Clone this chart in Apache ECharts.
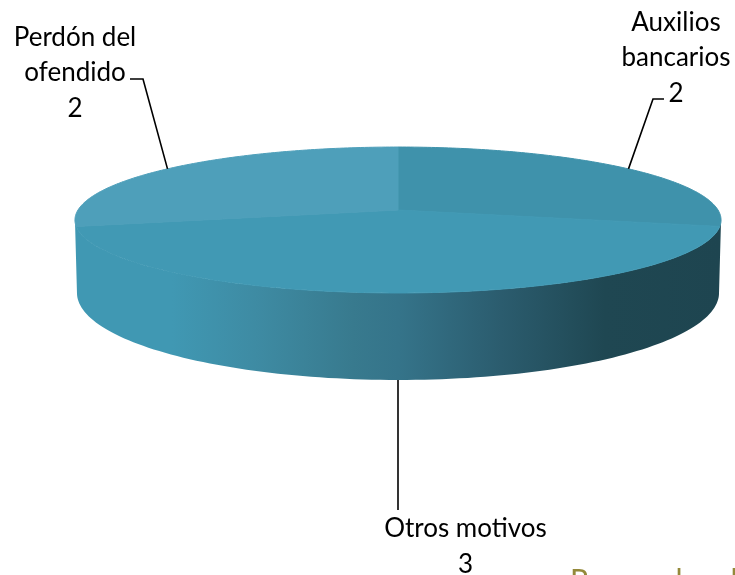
<!DOCTYPE html>
<html>
<head>
<meta charset="utf-8">
<style>html,body{margin:0;padding:0;background:#fff}#chart{width:735px;height:575px}</style>
<script src="https://cdn.jsdelivr.net/npm/echarts@6/dist/echarts.min.js"></script>
</head>
<body>
<div id="chart"></div>
<script>
// data, clockwise from 12 o'clock
const categories = ['Auxilios\nbancarios', 'Otros motivos', 'Perdón del\nofendido'];
const values = [2, 3, 2];
const sliceColors = ['#3F92AB', '#4199B4', '#4E9FBA'];
const footerText = 'Personal en la';

// layout of the tilted disc
const cx = 398, cyTop = 210, cyBottom = 281;
const rxTop = 320, ryTop = 71.6, rxBottom = 318, ryBottom = 85.4;
const tilt = 0.137;
// label box centre, elbow and end of each leader
const labelPos = [[676, 58], [465.5, 546.5], [75, 73]];
const leaders = [[[653, 99], [664, 99]], [[398, 510]], [[143, 79], [130, 79]]];

const total = values.reduce((a, b) => a + b, 0);
const cum = [0];
values.forEach((v, i) => cum.push(cum[i] + v));
const toAngle = v => echarts.number.linearMap(v, [0, total], [0, Math.PI * 2]);

// a clockwise angle from the far point of the disc, in perspective
function project(a, cy, rx, ry) {
	let u = Math.sin(a), v = -Math.cos(a);
	let w = 1 - tilt * v;
	return [cx + rx * u / w, cy + ry * v / w];
}
function arc(a0, a1, cy, rx, ry) {
	let pts = [];
	for (let i = 0; i <= 120; i++) {
		pts.push(project(a0 + (a1 - a0) * i / 120, cy, rx, ry));
	}
	return pts;
}

const wallGradient = new echarts.graphic.LinearGradient(0, 0, 1, 0, [
	{ offset: 0, color: '#4098B3' },
	{ offset: 0.15, color: '#4098B3' },
	{ offset: 0.28, color: '#3E8BA3' },
	{ offset: 0.43, color: '#387A8E' },
	{ offset: 0.5, color: '#35748A' },
	{ offset: 0.66, color: '#2B5C6E' },
	{ offset: 0.82, color: '#1F4752' },
	{ offset: 1, color: '#1E4550' }
]);

function renderWall(params) {
	if (params.dataIndex !== 0) return;
	// widest points of the projected disc
	let side = Math.acos(-tilt);
	let top = arc(side, Math.PI * 2 - side, cyTop, rxTop, ryTop);
	let bottom = arc(Math.PI * 2 - side, side, cyBottom, rxBottom, ryBottom);
	return {
		type: 'polygon',
		shape: { points: top.concat(bottom) },
		style: { fill: wallGradient }
	};
}

function renderSlice(params, api) {
	let i = params.dataIndex;
	let pts = arc(toAngle(cum[i]), toAngle(cum[i + 1]), cyTop, rxTop, ryTop);
	pts.push([cx, cyTop]);
	return {
		type: 'polygon',
		shape: { points: pts },
		// stroke in the fill colour closes the hairline between slices
		style: { fill: sliceColors[i], stroke: sliceColors[i], lineWidth: 1 }
	};
}

function renderLabel(params) {
	let i = params.dataIndex;
	let mid = toAngle((cum[i] + cum[i + 1]) / 2);
	// the front slice is anchored on the lower rim
	let anchor = Math.cos(mid) < -0.5 ? project(mid, cyBottom, rxBottom, ryBottom) : project(mid, cyTop, rxTop, ryTop);
	return {
		type: 'group',
		children: [{
			type: 'polyline',
			shape: { points: [anchor].concat(leaders[i]) },
			style: { fill: null, stroke: '#000', lineWidth: 1.6 }
		}, {
			type: 'text',
			x: labelPos[i][0],
			y: labelPos[i][1],
			style: {
				text: categories[i] + '\n' + values[i],
				fill: '#000',
				font: '26px Lato',
				lineHeight: 35.5,
				align: 'center',
				verticalAlign: 'middle'
			}
		}]
	};
}

let myChart = echarts.init(document.getElementById('chart'));
let rows = values.map((v, i) => [i, v]);
myChart.setOption({
	animation: false,
	graphic: [{
		type: 'text',
		x: 570,
		y: 566,
		style: { text: footerText, fill: '#94893A', font: '30px Lato' }
	}],
	series: [
		{ type: 'custom', coordinateSystem: 'none', silent: true, data: rows, renderItem: renderWall, z: 1 },
		{ type: 'custom', coordinateSystem: 'none', silent: true, data: rows, renderItem: renderSlice, z: 2 },
		{ type: 'custom', coordinateSystem: 'none', silent: true, data: rows, renderItem: renderLabel, z: 3 }
	]
});
</script>
</body>
</html>
